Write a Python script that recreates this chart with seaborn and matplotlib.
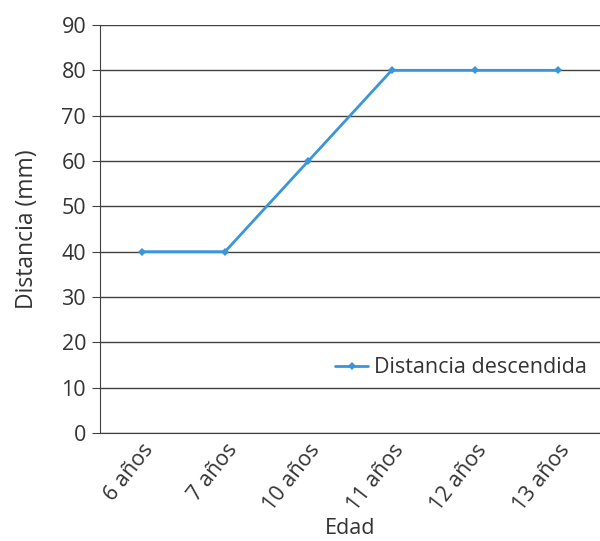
import seaborn as sns
import matplotlib
matplotlib.use('Agg')
import matplotlib.pyplot as plt
import pandas as pd

# Datos
edades = ['6 años', '7 años', '10 años', '11 años', '12 años', '13 años']
distancia = [40, 40, 60, 80, 80, 80]

data = pd.DataFrame({'Edad': edades, 'Distancia': distancia})

sns.set_style('white')
plt.rcParams['font.family'] = ['Open Sans', 'DejaVu Sans']

fs = 15.5

fig = plt.figure(figsize=(6, 5.41), dpi=100)
ax = fig.add_axes([0.1667, 0.1996, 0.8333, 0.7542])

sns.lineplot(data=data, x='Edad', y='Distancia', ax=ax, color='#3a96d8',
             linewidth=2, marker='D', markersize=4, markeredgewidth=0,
             label='Distancia descendida', sort=False)

ax.set_xlim(-0.5, 5.5)
ax.set_ylim(0, 90)
ax.set_yticks(range(0, 91, 10))
ax.grid(axis='y', color='#404040', linewidth=1)
ax.set_axisbelow(True)

for s in ['top', 'right']:
    ax.spines[s].set_visible(False)
ax.spines['left'].set_color('#404040')
ax.spines['bottom'].set_color('#404040')

ax.tick_params(axis='y', length=6, color='#404040', labelsize=fs, colors='#333333', left=True, pad=4)
ax.tick_params(axis='x', length=0, labelsize=fs, colors='#333333', pad=5)
plt.setp(ax.get_xticklabels(), rotation=52, ha='right', rotation_mode='anchor')

ax.set_xlabel('Edad', fontsize=fs, color='#333333', labelpad=2)
ax.set_ylabel('Distancia (mm)', fontsize=16.5, color='#333333', labelpad=16)

leg = ax.legend(loc='center right', bbox_to_anchor=(1.0, 0.16), frameon=False,
                fontsize=fs, handlelength=1.5, handletextpad=0.3, borderaxespad=0.2)
for t in leg.get_texts():
    t.set_color('#333333')

fig.savefig('out.png', dpi=100)
